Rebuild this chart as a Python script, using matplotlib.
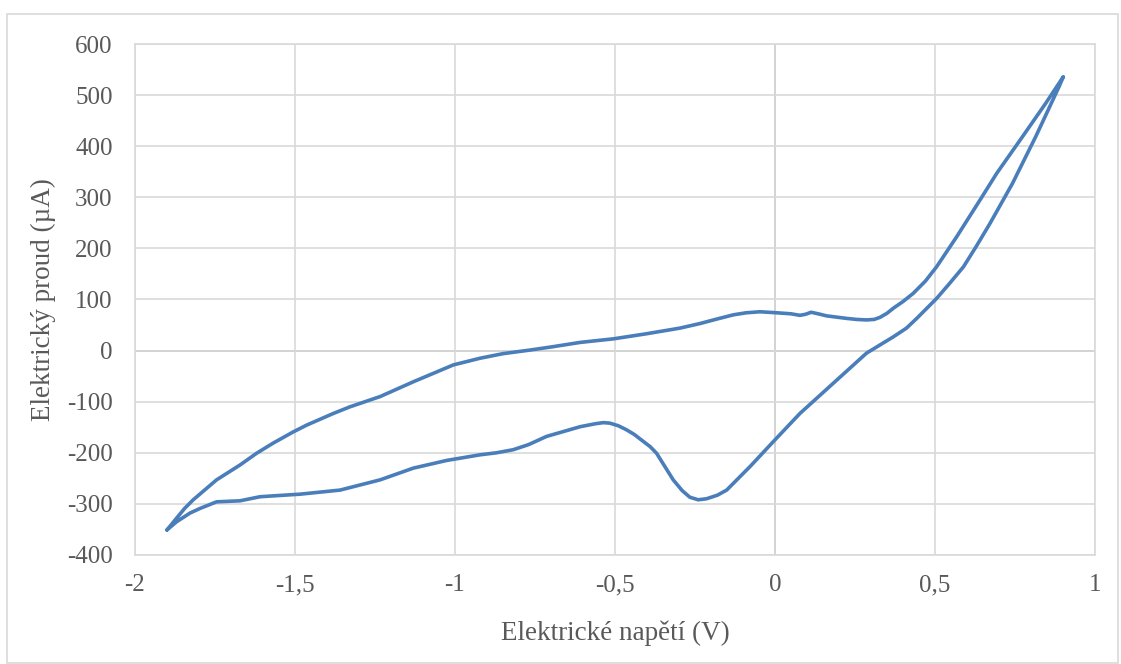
import matplotlib.pyplot as plt
from matplotlib.patches import Rectangle

# Cyklická voltametrie: dopředný sken (-1.9 V -> 0.9 V)
u_forward = [-1.90, -1.87, -1.845, -1.818, -1.745, -1.672, -1.620, -1.568, -1.505, -1.464,
             -1.38, -1.328, -1.234, -1.13, -1.005, -0.922, -0.85, -0.766, -0.69, -0.609,
             -0.505, -0.401, -0.297, -0.234, -0.18, -0.13, -0.09, -0.047, 0.005, 0.05,
             0.078, 0.095, 0.113, 0.135, 0.161, 0.224, 0.255, 0.286, 0.31, 0.328,
             0.35, 0.37, 0.40, 0.432, 0.47, 0.505, 0.568, 0.641, 0.693, 0.766,
             0.846, 0.901]
i_forward = [-351, -328, -309, -292, -253, -224, -201, -181, -159, -146,
             -123, -110, -90, -61, -28, -15, -6, 1, 8, 16,
             23, 33, 44, 53, 62, 70, 74, 76, 74, 72,
             69, 71, 75, 72, 68, 63, 61, 60, 61, 65,
             73, 83, 96, 112, 136, 164, 223, 295, 347, 412,
             484, 536]

# zpětný sken (0.9 V -> -1.9 V)
u_backward = [0.901, 0.888, 0.815, 0.742, 0.672, 0.63, 0.589, 0.545, 0.505, 0.443,
              0.411, 0.37, 0.328, 0.286, 0.182, 0.078, -0.005, -0.078, -0.151, -0.18,
              -0.214, -0.24, -0.266, -0.29, -0.318, -0.345, -0.37, -0.39, -0.411, -0.44,
              -0.464, -0.49, -0.516, -0.536, -0.56, -0.609, -0.714, -0.77, -0.818, -0.87,
              -0.922, -1.026, -1.13, -1.234, -1.359, -1.484, -1.609, -1.672, -1.745, -1.797,
              -1.828, -1.87, -1.90]
i_backward = [536, 517, 419, 327, 249, 205, 164, 131, 102, 63,
              44, 27, 11, -5, -64, -123, -178, -227, -273, -283,
              -290, -292, -287, -274, -253, -226, -201, -188, -178, -164,
              -155, -147, -142, -141, -143, -149, -168, -184, -194, -200,
              -204, -215, -230, -253, -273, -281, -286, -294, -296, -309,
              -318, -335, -351]

x_ticks = [-2, -1.5, -1, -0.5, 0, 0.5, 1]
x_tick_labels = ['-2', '-1,5', '-1', '-0,5', '0', '0,5', '1']
y_ticks = [-400, -300, -200, -100, 0, 100, 200, 300, 400, 500, 600]

plt.rcParams['font.family'] = ['Liberation Serif', 'DejaVu Serif']
plt.rcParams['axes.unicode_minus'] = False

fig = plt.figure(figsize=(11.21, 6.64), dpi=100)
ax = fig.add_axes([0.1204, 0.1642, 0.8564, 0.7695])

# rámeček kolem celého grafu
fig.patches.append(Rectangle((7 / 1121, 0.002), 1111 / 1121, 1 - 14 / 664 - 0.002,
                             transform=fig.transFigure, fill=False,
                             edgecolor='#d9d9d9', linewidth=1.2))

ax.plot(u_forward + u_backward, i_forward + i_backward, color='#4a7ebb',
        linewidth=2.6, solid_joinstyle='round', solid_capstyle='round', zorder=3)

ax.set_xlim(-2, 1)
ax.set_ylim(-400, 600)
ax.set_xticks(x_ticks)
ax.set_xticklabels(x_tick_labels)
ax.set_yticks(y_ticks)
ax.grid(True, color='#d9d9d9', linewidth=1.2)
ax.axhline(0, color='#bfbfbf', linewidth=1.4, zorder=1)
ax.axvline(0, color='#bfbfbf', linewidth=1.4, zorder=1)
for s in ax.spines.values():
    s.set_color('#d9d9d9')
    s.set_linewidth(1.2)
ax.tick_params(length=0, labelsize=18, labelcolor='#595959')
ax.tick_params(axis='x', pad=14)
ax.tick_params(axis='y', pad=16)

ax.set_xlabel('Elektrické napětí (V)', fontsize=19.5, color='#595959', labelpad=17)
ax.set_ylabel('Elektrický proud (µA)', fontsize=19.5, color='#595959', labelpad=8)

fig.savefig('out.png', dpi=100)
